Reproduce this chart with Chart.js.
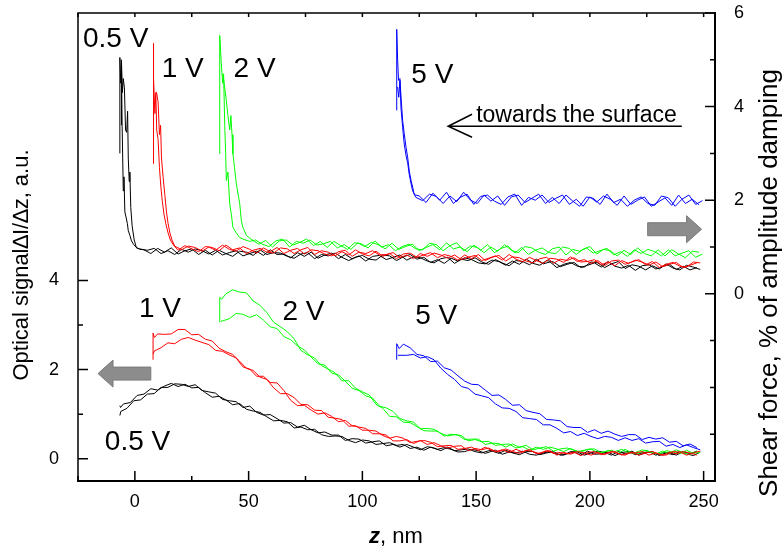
<!DOCTYPE html>
<html>
<head>
<meta charset="utf-8">
<title>Shear force and optical signal vs z</title>
<script src="https://cdn.jsdelivr.net/npm/chart.js@4.4.0/dist/chart.umd.min.js"></script>
<style>
  html, body { margin: 0; padding: 0; background: #fff; }
  #wrap { width: 783px; height: 550px; }
</style>
</head>
<body>
<div id="wrap"><canvas id="chart" width="783" height="550"></canvas></div>
<script>
// z step of the tabulated tails, nm
const DZ = 3;

// axis ticks
const xTickLabels = [0, 50, 100, 150, 200, 250];
const leftTickLabels = [0, 2, 4];
const rightTickLabels = [0, 2, 4, 6];

// ---- shear force, % of amplitude damping (right axis) ----
// steep part near the surface as [z, value], then a tail every DZ nm
// (approach and retract sweeps are sampled half a step apart)
const blackShear1Head = [[-6.6,3.0],[-6.6,5.05],[-6.2,4.5],[-5.9,4.9],[-5.6,3.6],[-5.1,2.2],[-4.8,2.5],[-4.4,1.75],[-3.8,1.62],[-3.3,1.5],[-2.9,1.35],[-2.2,1.25],[-1.5,1.13],[-0.5,1.05],[0.7,0.99],[2.2,0.95]];
const blackShear2Head = [[-5.9,3.6],[-5.9,5.0],[-5.5,4.3],[-5.1,4.6],[-4.6,4.4],[-4.1,3.5],[-3.6,3.45],[-3.2,3.9],[-2.9,2.9],[-2.5,2.4],[-2.2,2.6],[-1.8,1.84],[-1.2,1.45],[-0.3,1.15],[0.7,0.98],[2.0,0.96]];
const blackShear1Start = 4;
const blackShear2Start = 5.5;
const blackShear1 = [
  0.94,0.86,0.97,0.89,0.98,0.85,0.92,0.96,0.84,0.93,
  0.83,0.93,0.86,0.80,0.91,0.89,0.82,0.94,0.84,0.88,
  0.87,0.80,0.76,0.85,0.88,0.75,0.84,0.81,0.87,0.78,
  0.71,0.78,0.82,0.74,0.72,0.83,0.81,0.71,0.79,0.84,
  0.74,0.78,0.67,0.73,0.65,0.76,0.70,0.77,0.73,0.66,
  0.64,0.72,0.69,0.61,0.70,0.63,0.74,0.65,0.61,0.71,
  0.68,0.58,0.63,0.67,0.56,0.61,0.66,0.57,0.69,0.59,
  0.55,0.61,0.50,0.60,0.62,0.53,0.58,0.63,0.52,0.59,
  0.51,0.56];
const blackShear2 = [
  0.93,0.97,0.86,0.92,0.84,0.95,0.89,0.96,0.92,0.85,
  0.93,0.83,0.88,0.92,0.81,0.86,0.91,0.82,0.94,0.84,
  0.85,0.77,0.88,0.80,0.89,0.76,0.83,0.87,0.75,0.84,
  0.75,0.81,0.70,0.80,0.82,0.73,0.78,0.83,0.72,0.79,
  0.77,0.70,0.66,0.75,0.78,0.65,0.74,0.71,0.77,0.68,
  0.63,0.73,0.66,0.60,0.71,0.69,0.62,0.74,0.64,0.68,
  0.56,0.63,0.67,0.59,0.57,0.68,0.66,0.56,0.64,0.69,
  0.54,0.62,0.59,0.51,0.60,0.53,0.64,0.55,0.51,0.61,
  0.57,0.52];

const redShear1Head = [[8.0,2.78],[8.0,5.35],[8.4,4.6],[8.8,3.85],[9.2,4.3],[9.6,3.5],[10.2,3.3],[10.8,2.7],[11.4,2.3],[12.0,2.0],[12.8,1.7],[13.6,1.5],[14.6,1.3],[15.6,1.15],[17.0,1.04]];
const redShear2Head = [[9.5,4.31],[10.2,4.1],[10.8,3.4],[11.3,3.6],[11.7,2.9],[12.4,2.5],[13.2,2.1],[13.9,1.75],[14.6,1.5],[15.4,1.3],[16.3,1.15],[17.5,1.02]];
const redShear1Start = 19;
const redShear2Start = 20.5;
const redShear1 = [
  0.93,1.03,0.96,0.90,1.01,0.99,0.92,1.04,0.94,0.98,
  0.86,0.93,0.97,0.89,0.87,0.98,0.96,0.86,0.94,0.99,
  0.84,0.92,0.89,0.81,0.90,0.83,0.94,0.85,0.81,0.91,
  0.80,0.86,0.75,0.85,0.87,0.78,0.83,0.88,0.77,0.84,
  0.80,0.72,0.83,0.75,0.84,0.71,0.78,0.82,0.70,0.79,
  0.77,0.70,0.66,0.75,0.78,0.65,0.74,0.71,0.77,0.68,
  0.69,0.73,0.62,0.68,0.60,0.71,0.65,0.72,0.68,0.61,
  0.68,0.58,0.63,0.67,0.56,0.61,0.66];
const redShear2 = [
  0.94,1.02,0.99,0.91,1.00,0.93,1.04,0.95,0.91,1.01,
  0.95,0.87,0.98,0.90,0.99,0.86,0.93,0.97,0.85,0.94,
  0.92,0.85,0.81,0.90,0.93,0.80,0.89,0.86,0.92,0.83,
  0.84,0.88,0.77,0.83,0.75,0.86,0.80,0.87,0.83,0.76,
  0.83,0.73,0.78,0.82,0.71,0.76,0.81,0.72,0.84,0.74,
  0.68,0.78,0.71,0.65,0.76,0.74,0.67,0.79,0.69,0.73,
  0.65,0.71,0.60,0.70,0.72,0.63,0.68,0.73,0.62,0.69,
  0.56,0.63,0.67,0.59,0.57,0.68,0.66];

const greenShear1Head = [[37.3,2.99],[37.3,5.52],[38.0,4.92],[38.6,4.5],[39.0,4.7],[39.5,3.6],[39.9,3.0],[40.2,2.42],[40.9,2.6],[41.7,1.92],[42.4,1.7],[43.1,1.42],[44.6,1.3],[46.1,1.2],[48.0,1.16],[50.5,1.12]];
const greenShear2Head = [[38.7,4.70],[39.5,4.4],[40.2,4.13],[40.9,3.81],[41.7,3.5],[42.2,3.81],[42.7,3.4],[43.1,2.99],[43.8,2.7],[44.6,2.35],[46.1,1.92],[46.8,1.56],[47.5,1.42],[49.0,1.25],[51.0,1.17]];
const greenShear1Start = 53;
const greenShear2Start = 54.5;
const greenShear1 = [
  1.15,1.06,1.01,1.13,1.17,1.00,1.12,1.08,1.15,1.04,
  1.07,1.12,0.98,1.05,0.95,1.09,1.01,1.10,1.05,0.96,
  1.08,0.95,1.01,1.06,0.92,0.99,1.05,0.94,1.09,0.96,
  1.00,0.90,1.04,0.93,1.05,0.88,0.97,1.02,0.87,0.99,
  0.84,0.93,0.98,0.88,0.86,1.00,0.97,0.84,0.95,1.01,
  0.85,0.95,0.92,0.81,0.93,0.84,0.98,0.86,0.81,0.94,
  0.81,0.94,0.85,0.77,0.91,0.89];
const greenShear2 = [
  1.06,1.14,1.00,1.13,1.15,1.04,1.10,1.17,1.03,1.12,
  0.99,1.12,1.03,0.95,1.09,1.07,0.98,1.13,1.00,1.05,
  0.92,1.01,1.06,0.96,0.94,1.08,1.05,0.92,1.03,1.09,
  0.92,1.02,0.99,0.88,1.00,0.91,1.05,0.93,0.88,1.01,
  0.98,0.89,0.84,0.96,1.00,0.83,0.95,0.91,0.98,0.87,
  0.92,0.97,0.83,0.90,0.80,0.94,0.86,0.95,0.90,0.81,
  0.94,0.81,0.87,0.92,0.78,0.85];

const blueShear1Head = [[115.1,3.92],[115.1,5.65],[115.5,5.0],[115.9,4.56],[116.5,4.6],[117.0,4.2],[117.7,3.7],[118.4,3.42],[119.2,3.13],[119.9,2.92],[120.6,2.63],[121.4,2.42],[122.1,2.28],[122.8,2.12]];
const blueShear2Head = [[115.5,4.42],[116.0,4.2],[116.5,4.56],[117.0,3.95],[117.7,3.55],[118.4,3.2],[119.2,2.95],[119.9,2.8],[120.6,2.55],[121.4,2.35],[122.1,2.2],[123.5,2.06]];
const blueShear1Start = 125;
const blueShear2Start = 126.5;
const blueShear1 = [
  2.09,1.95,2.15,2.00,2.17,1.93,2.06,2.13,1.91,2.08,
  2.11,1.98,1.91,2.07,2.13,1.89,2.06,2.00,2.11,1.95,
  2.04,2.11,1.91,2.02,1.87,2.07,1.96,2.09,2.02,1.89,
  2.09,1.91,2.00,2.07,1.87,1.96,2.05,1.89,2.11,1.93,
  2.02,1.90];
const blueShear2 = [
  1.99,2.13,2.08,1.93,2.09,1.97,2.17,2.00,1.93,2.11,
  1.98,2.09,1.89,2.07,2.11,1.95,2.04,2.13,1.93,2.06,
  1.93,2.11,1.98,1.87,2.07,2.04,1.91,2.13,1.95,2.02,
  1.87,2.00,2.07,1.93,1.89,2.09,2.05,1.87,2.02,2.11,
  1.91,1.99];

// ---- optical signal dI/dz, a.u. (left axis) ----
const blackOpt1Head = [[-6.6,1.19],[-6.3,1.15]];
const blackOpt2Head = [[-6.6,0.97],[-6.2,1.06]];
const blackOpt1Start = -5;
const blackOpt2Start = -3.5;
const blackOpt1 = [
  1.23,1.26,1.42,1.45,1.57,1.54,1.63,1.69,1.62,1.67,
  1.59,1.60,1.48,1.38,1.40,1.32,1.21,1.24,1.11,1.07,
  1.04,0.94,0.85,0.86,0.83,0.69,0.71,0.65,0.66,0.54,
  0.50,0.51,0.50,0.41,0.36,0.42,0.40,0.32,0.34,0.36,
  0.30,0.32,0.23,0.26,0.19,0.26,0.21,0.25,0.21,0.15,
  0.16,0.21,0.18,0.12,0.17,0.12,0.19,0.13,0.09,0.16,
  0.16,0.09,0.13,0.16,0.08,0.11,0.15,0.08,0.17,0.10,
  0.11,0.15,0.07,0.14,0.16,0.09,0.13,0.16,0.08,0.13,
  0.14,0.08,0.16,0.11,0.17];
const blackOpt2 = [
  1.13,1.30,1.32,1.45,1.46,1.60,1.60,1.68,1.67,1.62,
  1.66,1.53,1.50,1.47,1.33,1.30,1.28,1.15,1.18,1.04,
  0.98,0.99,0.90,0.80,0.81,0.71,0.75,0.65,0.58,0.60,
  0.53,0.53,0.41,0.45,0.44,0.35,0.38,0.40,0.29,0.32,
  0.26,0.32,0.26,0.20,0.27,0.24,0.18,0.26,0.18,0.20,
  0.22,0.16,0.13,0.18,0.19,0.10,0.15,0.13,0.17,0.10,
  0.08,0.13,0.16,0.10,0.08,0.16,0.15,0.08,0.13,0.17,
  0.14,0.08,0.16,0.11,0.17,0.08,0.13,0.16,0.07,0.13,
  0.09,0.16,0.11,0.07,0.15];

const redOpt1Head = [[8.0,2.22],[8.0,2.82],[8.6,2.72]];
const redOpt2Head = [[8.0,2.35],[8.6,2.42]];
const redOpt1Start = 10;
const redOpt2Start = 11.5;
const redOpt1 = [
  2.80,2.79,2.80,2.90,2.90,2.78,2.79,2.68,2.64,2.48,
  2.40,2.34,2.19,2.03,1.98,1.83,1.78,1.59,1.46,1.46,
  1.37,1.22,1.21,1.09,1.08,0.93,0.91,0.88,0.73,0.74,
  0.64,0.64,0.62,0.52,0.46,0.50,0.46,0.36,0.39,0.41,
  0.37,0.27,0.29,0.30,0.21,0.23,0.26,0.18,0.26,0.18,
  0.16,0.22,0.16,0.12,0.19,0.16,0.11,0.19,0.12,0.14,
  0.11,0.15,0.07,0.14,0.16,0.09,0.13,0.16,0.08,0.13,
  0.13,0.16,0.08,0.13,0.07,0.15,0.11,0.16,0.13,0.08];
const redOpt2 = [
  2.49,2.60,2.58,2.68,2.72,2.66,2.61,2.56,2.43,2.41,
  2.33,2.26,2.06,2.01,1.85,1.85,1.71,1.70,1.53,1.31,
  1.19,1.20,1.09,1.00,1.03,0.95,0.83,0.86,0.74,0.71,
  0.68,0.56,0.56,0.53,0.40,0.40,0.43,0.34,0.41,0.32,
  0.36,0.29,0.24,0.28,0.29,0.18,0.23,0.20,0.24,0.16,
  0.20,0.14,0.21,0.15,0.21,0.11,0.15,0.18,0.08,0.14,
  0.10,0.16,0.13,0.08,0.14,0.09,0.17,0.11,0.08,0.15,
  0.08,0.13,0.16,0.10,0.08,0.16,0.15,0.08,0.13,0.17];

const greenOpt1Head = [[37.3,3.06],[37.3,3.62],[38.2,3.58]];
const greenOpt2Head = [[37.8,3.08]];
const greenOpt1Start = 40;
const greenOpt2Start = 41.5;
const greenOpt1 = [
  3.70,3.79,3.74,3.72,3.54,3.44,3.28,3.06,2.96,2.85,
  2.69,2.43,2.33,2.26,2.09,2.01,1.93,1.75,1.75,1.58,
  1.50,1.43,1.22,1.13,0.95,0.94,0.82,0.81,0.72,0.63,
  0.62,0.62,0.51,0.55,0.53,0.43,0.44,0.44,0.32,0.35,
  0.34,0.26,0.33,0.26,0.30,0.20,0.24,0.27,0.17,0.22,
  0.24,0.19,0.15,0.21,0.22,0.13,0.18,0.16,0.21,0.13,
  0.14,0.20,0.16,0.11,0.17,0.12,0.20,0.13,0.10,0.17];
const greenOpt2 = [
  3.14,3.26,3.24,3.17,3.23,3.11,2.96,2.92,2.74,2.67,
  2.53,2.44,2.28,2.13,2.10,1.92,1.88,1.74,1.58,1.53,
  1.41,1.36,1.18,1.14,1.06,0.90,0.85,0.82,0.67,0.68,
  0.66,0.57,0.51,0.54,0.52,0.40,0.43,0.38,0.39,0.30,
  0.32,0.33,0.24,0.27,0.19,0.26,0.21,0.26,0.22,0.16,
  0.23,0.16,0.19,0.22,0.13,0.16,0.19,0.12,0.21,0.13,
  0.12,0.19,0.14,0.10,0.18,0.15,0.11,0.19,0.12,0.14];

const blueOpt1Head = [[115.1,2.22],[115.1,2.58],[116.2,2.47]];
const blueOpt2Head = [[115.6,2.32]];
const blueOpt1Start = 118;
const blueOpt2Start = 119.5;
const blueOpt1 = [
  2.57,2.49,2.34,2.31,2.18,2.19,2.04,1.99,1.86,1.74,
  1.67,1.66,1.54,1.42,1.43,1.33,1.20,1.21,1.08,1.04,
  1.01,0.88,0.87,0.85,0.72,0.70,0.70,0.59,0.65,0.57,
  0.62,0.55,0.50,0.54,0.54,0.43,0.48,0.44,0.47,0.37,
  0.39,0.29,0.33,0.25];
const blueOpt2 = [
  2.32,2.34,2.26,2.29,2.22,2.03,1.89,1.78,1.62,1.58,
  1.45,1.41,1.37,1.23,1.14,1.13,1.06,0.92,0.90,0.88,
  0.76,0.76,0.68,0.58,0.61,0.52,0.57,0.50,0.45,0.50,
  0.48,0.41,0.47,0.41,0.45,0.35,0.38,0.39,0.28,0.32,
  0.25,0.31,0.25,0.20];

// text labels placed in data units: [text, z, value, axis]
const curveLabels = [
  ['0.5 V', -22.8, 5.27, 'y2'],
  ['1 V', 11.8, 4.63, 'y2'],
  ['2 V', 43.4, 4.63, 'y2'],
  ['5 V', 121.5, 4.50, 'y2'],
  ['1 V', 1.8, 3.17, 'y'],
  ['2 V', 64.9, 3.12, 'y'],
  ['5 V', 123.2, 3.03, 'y'],
  ['0.5 V', -13.2, 0.20, 'y']
];

const FONT = "'Liberation Sans', Arial, sans-serif";

function series(head, start, values) {
  const pts = head.map(([z, v]) => ({ x: z, y: v }));
  values.forEach((v, i) => pts.push({ x: start + i * DZ, y: v }));
  return pts;
}

function line(data, color, axis) {
  return {
    data: data,
    yAxisID: axis,
    showLine: true,
    borderColor: color,
    backgroundColor: color,
    borderWidth: 1,
    pointRadius: 0,
    tension: 0
  };
}

const datasets = [
  line(series(redShear1Head, redShear1Start, redShear1), '#ff0000', 'y2'),
  line(series(redShear2Head, redShear2Start, redShear2), '#ff0000', 'y2'),
  line(series(redOpt1Head, redOpt1Start, redOpt1), '#ff0000', 'y'),
  line(series(redOpt2Head, redOpt2Start, redOpt2), '#ff0000', 'y'),
  line(series(greenShear1Head, greenShear1Start, greenShear1), '#00ff00', 'y2'),
  line(series(greenShear2Head, greenShear2Start, greenShear2), '#00ff00', 'y2'),
  line(series(greenOpt1Head, greenOpt1Start, greenOpt1), '#00ff00', 'y'),
  line(series(greenOpt2Head, greenOpt2Start, greenOpt2), '#00ff00', 'y'),
  line(series(blackShear1Head, blackShear1Start, blackShear1), '#000000', 'y2'),
  line(series(blackShear2Head, blackShear2Start, blackShear2), '#000000', 'y2'),
  line(series(blackOpt1Head, blackOpt1Start, blackOpt1), '#000000', 'y'),
  line(series(blackOpt2Head, blackOpt2Start, blackOpt2), '#000000', 'y'),
  line(series(blueShear1Head, blueShear1Start, blueShear1), '#0000ff', 'y2'),
  line(series(blueShear2Head, blueShear2Start, blueShear2), '#0000ff', 'y2'),
  line(series(blueOpt1Head, blueOpt1Start, blueOpt1), '#0000ff', 'y'),
  line(series(blueOpt2Head, blueOpt2Start, blueOpt2), '#0000ff', 'y')
];

// block arrow: tip at (tx, ty), tail at tx + dir * len
function blockArrow(ctx, tx, ty, len, dir) {
  const head = 15, body = 6.5, wing = 13.5;
  ctx.beginPath();
  ctx.moveTo(tx, ty);
  ctx.lineTo(tx + dir * head, ty - wing);
  ctx.lineTo(tx + dir * head, ty - body);
  ctx.lineTo(tx + dir * len, ty - body);
  ctx.lineTo(tx + dir * len, ty + body);
  ctx.lineTo(tx + dir * head, ty + body);
  ctx.lineTo(tx + dir * head, ty + wing);
  ctx.closePath();
  ctx.fillStyle = '#8c8c8c';
  ctx.fill();
  ctx.strokeStyle = '#7a7a7a';
  ctx.lineWidth = 1;
  ctx.stroke();
}

// no extra room for the end tick labels, the frame is fixed
function noPad(s) {
  s.paddingTop = 0; s.paddingBottom = 0;
  s.paddingLeft = 0; s.paddingRight = 0;
}

const decor = {
  id: 'decor',
  afterDatasetsDraw(chart) {
    const { ctx, chartArea: a, scales: { x, y, y2 } } = chart;
    ctx.save();
    ctx.strokeStyle = '#000';
    ctx.lineCap = 'butt';

    // frame
    ctx.lineWidth = 1.5;
    ctx.beginPath();
    ctx.moveTo(a.left, a.bottom + 1);
    ctx.lineTo(a.left, a.top);
    ctx.lineTo(a.right, a.top);
    ctx.stroke();
    ctx.lineWidth = 2;
    ctx.beginPath();
    ctx.moveTo(a.left - 1, a.bottom);
    ctx.lineTo(a.right, a.bottom);
    ctx.lineTo(a.right, a.top - 1);
    ctx.stroke();

    // inward tick marks
    ctx.lineWidth = 1.5;
    ctx.beginPath();
    for (let v = -25; v <= 250; v += 25) {
      const px = x.getPixelForValue(v);
      const len = v % 50 === 0 ? 10 : 5;
      ctx.moveTo(px, a.bottom); ctx.lineTo(px, a.bottom - len);
      ctx.moveTo(px, a.top); ctx.lineTo(px, a.top + 4);
    }
    for (let v = 0; v <= 4; v++) {
      const py = y.getPixelForValue(v);
      ctx.moveTo(a.left, py); ctx.lineTo(a.left + (v % 2 === 0 ? 10 : 5), py);
    }
    for (let v = -3; v <= 6; v++) {
      const py = y2.getPixelForValue(v);
      const len = v >= 0 && v % 2 === 0 ? 10 : 5;
      ctx.moveTo(a.right, py); ctx.lineTo(a.right - len, py);
    }
    ctx.stroke();

    // curve labels
    ctx.fillStyle = '#000';
    ctx.font = '28px ' + FONT;
    ctx.textAlign = 'left';
    ctx.textBaseline = 'alphabetic';
    curveLabels.forEach(([t, z, v, axis]) => {
      const sc = axis === 'y' ? y : y2;
      ctx.fillText(t, x.getPixelForValue(z), sc.getPixelForValue(v));
    });

    // "towards the surface" with an arrow line
    ctx.font = '23px ' + FONT;
    ctx.fillText('towards the surface', x.getPixelForValue(150), y2.getPixelForValue(3.68));
    const ly = y2.getPixelForValue(3.58);
    const x0 = x.getPixelForValue(137.7), x1 = x.getPixelForValue(240.4), xh = x.getPixelForValue(148.2);
    ctx.lineWidth = 1.5;
    ctx.beginPath();
    ctx.moveTo(x1, ly); ctx.lineTo(x0, ly);
    ctx.moveTo(xh, ly - 12); ctx.lineTo(x0, ly); ctx.lineTo(xh, ly + 11);
    ctx.stroke();

    // grey block arrows: optical signal -> left axis, shear force -> right axis
    blockArrow(ctx, x.getPixelForValue(-16.2), y.getPixelForValue(1.91),
      x.getPixelForValue(7.0) - x.getPixelForValue(-16.2), 1);
    blockArrow(ctx, x.getPixelForValue(249.1), y2.getPixelForValue(1.38),
      x.getPixelForValue(249.1) - x.getPixelForValue(225.4), -1);

    ctx.restore();
  },
  afterDraw(chart) {
    const { ctx } = chart;
    ctx.save();
    ctx.fillStyle = '#000';
    ctx.textBaseline = 'middle';
    ctx.textAlign = 'center';

    // left title
    ctx.save();
    ctx.translate(22, 265);
    ctx.rotate(-Math.PI / 2);
    ctx.font = '22px ' + FONT;
    ctx.fillText('Optical signal\u2206I/\u2206z, a.u.', 0, 0);
    ctx.restore();

    // right title
    ctx.save();
    ctx.translate(770, 283);
    ctx.rotate(-Math.PI / 2);
    ctx.font = '26px ' + FONT;
    ctx.fillText('Shear force, % of amplitude damping', 0, 0);
    ctx.restore();

    // bottom title: italic bold z
    ctx.textAlign = 'left';
    ctx.textBaseline = 'alphabetic';
    const zFont = 'italic bold 22px ' + FONT;
    const rFont = '22px ' + FONT;
    ctx.font = zFont;
    const wz = ctx.measureText('z').width;
    ctx.font = rFont;
    const wr = ctx.measureText(', nm').width;
    const sx = 396 - (wz + wr) / 2;
    ctx.font = zFont;
    ctx.fillText('z', sx, 543);
    ctx.font = rFont;
    ctx.fillText(', nm', sx + wz, 543);
    ctx.restore();
  }
};

Chart.defaults.font.family = FONT;
Chart.defaults.color = '#000';

new Chart(document.getElementById('chart'), {
  type: 'scatter',
  data: { datasets: datasets },
  options: {
    responsive: false,
    animation: false,
    layout: { padding: { top: 13, left: 0, right: 0, bottom: 0 } },
    plugins: { legend: { display: false }, tooltip: { enabled: false } },
    scales: {
      x: {
        type: 'linear', position: 'bottom', min: -25, max: 255,
        grid: { display: false }, border: { display: false },
        afterBuildTicks: s => { s.ticks = xTickLabels.map(v => ({ value: v })); },
        afterFit: s => { s.height = 69; noPad(s); },
        ticks: { font: { size: 18 }, padding: 2, maxRotation: 0 }
      },
      y: {
        type: 'linear', position: 'left', min: -0.5, max: 10,
        grid: { display: false }, border: { display: false },
        afterBuildTicks: s => { s.ticks = leftTickLabels.map(v => ({ value: v })); },
        afterFit: s => { s.width = 78; noPad(s); },
        ticks: { font: { size: 18 }, padding: 11 }
      },
      y2: {
        type: 'linear', position: 'right', min: -4, max: 6,
        grid: { display: false }, border: { display: false },
        afterBuildTicks: s => { s.ticks = rightTickLabels.map(v => ({ value: v })); },
        afterFit: s => { s.width = 68; noPad(s); },
        ticks: { font: { size: 18 }, padding: 11 }
      }
    }
  },
  plugins: [decor]
});
</script>
</body>
</html>
